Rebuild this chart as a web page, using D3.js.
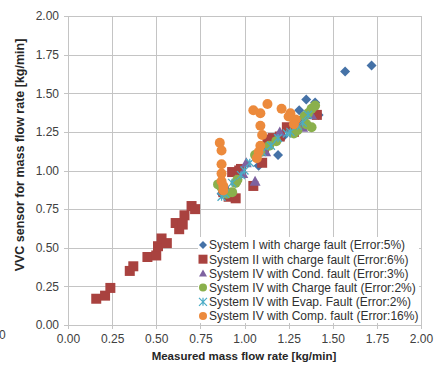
<!DOCTYPE html>
<html><head><meta charset="utf-8">
<script src="https://cdn.jsdelivr.net/npm/d3@7"></script>
<style>html,body{margin:0;padding:0;background:#fff;}svg{display:block;}</style>
</head><body>
<svg id="chart" width="434" height="365"></svg>
<script>
const xTicks = [0, 0.25, 0.5, 0.75, 1.0, 1.25, 1.5, 1.75, 2.0];
const yTicks = [0, 0.25, 0.5, 0.75, 1.0, 1.25, 1.5, 1.75, 2.0];
const seriesNames = [
  "System I with charge fault (Error:5%)",
  "System II with charge fault (Error:6%)",
  "System IV with Cond. fault (Error:3%)",
  "System IV with Charge fault (Error:2%)",
  "System IV with Evap. Fault (Error:2%)",
  "System IV with Comp. fault (Error:16%)"
];
const seriesColors = ["#4572A7", "#A9423F", "#7E62A0", "#8AB04C", "#4BACC6", "#EC8A3C"];
const seriesShapes = ["diamond", "square", "triangle", "circle", "star", "circle"];

const sysIChargeX = [0.87, 0.95, 1.08, 1.19, 1.22, 1.27, 1.31, 1.33, 1.35, 1.38, 1.40, 1.42, 1.57, 1.72];
const sysIChargeY = [0.85, 0.92, 1.03, 1.10, 1.22, 1.26, 1.39, 1.33, 1.46, 1.40, 1.44, 1.36, 1.64, 1.68];

const sysIIChargeX = [0.16, 0.21, 0.24, 0.35, 0.37, 0.45, 0.50, 0.51, 0.53, 0.56, 0.61, 0.63, 0.65, 0.66, 0.70, 0.72,
  0.88, 0.91, 0.95, 0.93, 0.97, 0.98, 1.05, 1.10, 1.11, 1.13, 1.16, 1.20, 1.24, 1.28, 1.31, 1.41];
const sysIIChargeY = [0.17, 0.19, 0.24, 0.35, 0.38, 0.44, 0.45, 0.51, 0.56, 0.53, 0.66, 0.62, 0.65, 0.71, 0.77, 0.75,
  0.86, 0.83, 0.82, 0.99, 1.00, 1.01, 0.90, 1.05, 1.15, 1.20, 1.21, 1.22, 1.28, 1.25, 1.32, 1.36];

const sysIVCondX = [0.90, 0.95, 0.99, 1.01, 1.06, 1.12, 1.20, 1.33, 1.38];
const sysIVCondY = [0.88, 0.94, 0.98, 1.05, 0.93, 1.12, 1.25, 1.28, 1.36];

const sysIVChargeX = [0.85, 0.87, 0.90, 0.93, 0.95, 0.96, 1.06, 1.09, 1.14, 1.18, 1.28, 1.30, 1.34, 1.36, 1.38, 1.40, 1.38, 1.35];
const sysIVChargeY = [0.91, 0.89, 0.85, 0.86, 0.92, 0.94, 1.10, 1.12, 1.16, 1.19, 1.24, 1.26, 1.35, 1.37, 1.40, 1.42, 1.28, 1.30];

const sysIVEvapX = [0.87, 0.89, 0.93, 0.98, 1.00, 1.03, 1.10, 1.15, 1.19, 1.24, 1.26, 1.30, 1.33, 1.36];
const sysIVEvapY = [0.83, 0.85, 0.92, 0.97, 1.00, 1.05, 1.12, 1.16, 1.21, 1.24, 1.25, 1.29, 1.31, 1.36];

const sysIVCompX = [0.86, 0.87, 0.87, 0.87, 0.87, 0.88, 0.88, 1.05, 1.09, 1.13, 1.21, 1.26, 1.29, 1.28, 1.09, 1.10, 1.09, 1.08, 1.07, 1.25];
const sysIVCompY = [1.18, 1.13, 1.04, 0.98, 0.93, 0.90, 0.87, 1.39, 1.37, 1.43, 1.40, 1.37, 1.33, 1.30, 1.29, 1.23, 1.16, 1.12, 1.08, 1.35];

const xs = [sysIChargeX, sysIIChargeX, sysIVCondX, sysIVChargeX, sysIVEvapX, sysIVCompX];
const ys = [sysIChargeY, sysIIChargeY, sysIVCondY, sysIVChargeY, sysIVEvapY, sysIVCompY];

const svg = d3.select("#chart");
const L = 68, R = 421, T = 16, B = 325;
const x = d3.scaleLinear().domain([0, 2]).range([L, R]);
const y = d3.scaleLinear().domain([0, 2]).range([B, T]);
const gridColor = "#c4c4c4";
const font = "'Liberation Sans', Arial, sans-serif";

// gridlines
svg.append("g").selectAll("line").data(yTicks).join("line")
  .attr("x1", L - 4).attr("x2", R).attr("y1", d => Math.round(y(d)) + 0.5).attr("y2", d => Math.round(y(d)) + 0.5)
  .attr("stroke", gridColor).attr("stroke-width", 1);
svg.append("g").selectAll("line").data(xTicks).join("line")
  .attr("y1", T).attr("y2", B + 4).attr("x1", d => Math.round(x(d)) + 0.5).attr("x2", d => Math.round(x(d)) + 0.5)
  .attr("stroke", gridColor).attr("stroke-width", 1);

// axes labels via d3 axes
const xAxis = d3.axisBottom(x).tickValues(xTicks).tickFormat(d3.format(".2f")).tickSize(0).tickPadding(9);
const yAxis = d3.axisLeft(y).tickValues(yTicks).tickFormat(d3.format(".2f")).tickSize(0).tickPadding(9);
const gx = svg.append("g").attr("transform", `translate(0,${B})`).call(xAxis);
const gy = svg.append("g").attr("transform", `translate(${L},0)`).call(yAxis);
[gx, gy].forEach(g => {
  g.select(".domain").remove();
  g.selectAll("text").attr("font-family", font).attr("font-size", 12).attr("fill", "#404040");
});

// marker generator
function markerPath(shape, s) {
  const h = s / 2;
  if (shape === "diamond") return `M0,${-h}L${h},0L0,${h}L${-h},0Z`;
  if (shape === "square") return `M${-h},${-h}H${h}V${h}H${-h}Z`;
  if (shape === "triangle") return `M0,${-h}L${h},${h * 0.8}L${-h},${h * 0.8}Z`;
  if (shape === "circle") return d3.arc()({innerRadius: 0, outerRadius: h, startAngle: 0, endAngle: 2 * Math.PI});
  if (shape === "star") return `M${-h},${-h}L${h},${h}M${-h},${h}L${h},${-h}M0,${-h}V${h}`;
}
const sizes = {diamond: 10, square: 10, triangle: 11, circle: 10, star: 8};

xs.forEach((xv, i) => {
  const shape = seriesShapes[i];
  const pts = xv.map((v, k) => [v, ys[i][k]]);
  const g = svg.append("g");
  g.selectAll("path").data(pts).join("path")
    .attr("transform", d => `translate(${x(d[0])},${y(d[1])})`)
    .attr("d", markerPath(shape, sizes[shape]))
    .attr("fill", shape === "star" ? "none" : seriesColors[i])
    .attr("stroke", shape === "star" ? seriesColors[i] : "none")
    .attr("stroke-width", 1.3);
});

// legend
const lg = svg.append("g");
lg.append("rect").attr("x", 198).attr("y", 237).attr("width", 221).attr("height", 86).attr("fill", "#fff");
seriesNames.forEach((name, i) => {
  const cy = 245 + i * 14.2;
  const shape = seriesShapes[i];
  lg.append("path").attr("transform", `translate(203,${cy})`)
    .attr("d", markerPath(shape, shape === "square" ? 9 : 8))
    .attr("fill", shape === "star" ? "none" : seriesColors[i])
    .attr("stroke", shape === "star" ? seriesColors[i] : "none").attr("stroke-width", 1.2);
  lg.append("text").attr("x", 209).attr("y", cy + 4.3).text(name)
    .attr("font-family", font).attr("font-size", 12).attr("fill", "#303030");
});

// axis titles
svg.append("text").attr("x", 244).attr("y", 360).attr("text-anchor", "middle")
  .attr("font-family", font).attr("font-size", 11.5).attr("font-weight", "bold").attr("fill", "#262626")
  .text("Measured mass flow rate [kg/min]");
svg.append("text").attr("transform", "translate(24,155) rotate(-90)").attr("text-anchor", "middle")
  .attr("font-family", font).attr("font-size", 12.5).attr("font-weight", "bold").attr("fill", "#262626")
  .text("VVC sensor for mass flow rate [kg/min]");
svg.append("text").attr("x", -1).attr("y", 339).attr("font-family", font).attr("font-size", 12).attr("fill", "#404040").text("0");
</script>
</body></html>
